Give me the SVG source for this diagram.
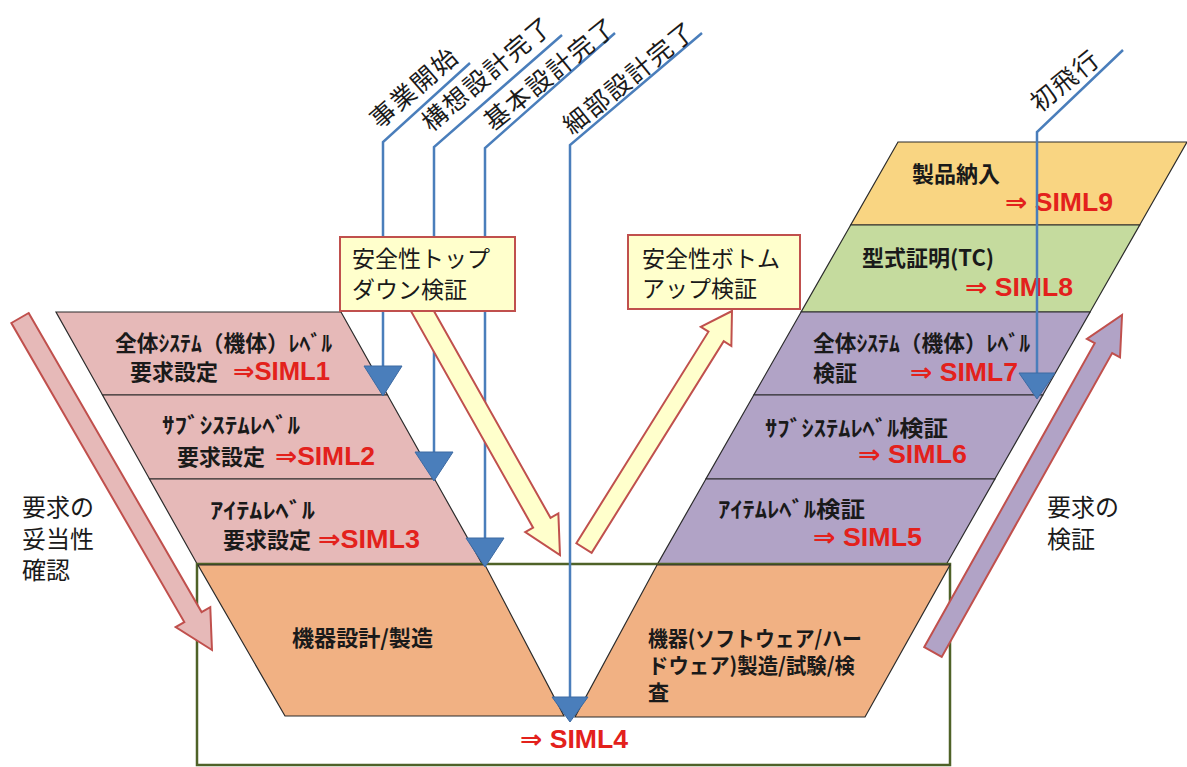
<svg xmlns="http://www.w3.org/2000/svg" width="1187" height="767" viewBox="0 0 1187 767">
<style>
.box{stroke:#2b2b2b;stroke-width:1.2}
.pink{fill:#E6B9B8}
.orange{fill:#F1B183}
.purple{fill:#B1A3C6}
.green{fill:#C5DB9E}
.yellow{fill:#F9D582}
.frame{fill:none;stroke:#4F6228;stroke-width:2.5}
.ms{fill:none;stroke:#4A7EBB;stroke-width:2.5}
.tri{fill:#4A7EBB;stroke:#3C6AA3;stroke-width:1}
.barrow{stroke:#C0504D;stroke-width:2;stroke-linejoin:miter}
.callout{fill:#FFFFCC;stroke:#C0504D;stroke-width:2}
.jp{font-family:"Noto Sans CJK JP",sans-serif;font-weight:bold;font-size:22px;fill:#1a1a1a}
.jps{font-family:"Noto Sans CJK JP",sans-serif;font-weight:bold;font-size:21px;fill:#1a1a1a}
.siml{font-family:"Liberation Sans","DejaVu Sans","Noto Sans CJK JP",sans-serif;font-weight:bold;font-size:25px;fill:#E3211C}
.call{font-family:"Noto Sans CJK JP",sans-serif;font-size:23px;fill:#1a1a1a}
.side{font-family:"Noto Sans CJK JP",sans-serif;font-size:24px;fill:#1a1a1a}
.mst{font-family:"Noto Sans CJK JP",sans-serif;font-size:25px;letter-spacing:2px;fill:#1a1a1a}
</style>

<!-- Left requirement boxes -->
<g id="req-system">
  <polygon class="box pink" points="56,312 341,312 387.5,395 102.5,395"/>
  <text class="jp" x="115" y="351" textLength="217" lengthAdjust="spacingAndGlyphs">全体ｼｽﾃﾑ（機体）ﾚﾍﾞﾙ</text>
  <text class="jp" x="130" y="380">要求設定</text>
  <text class="siml" x="233" y="380" textLength="97" lengthAdjust="spacingAndGlyphs">⇒SIML1</text>
</g>
<g id="req-subsystem">
  <polygon class="box pink" points="102.5,395 387.5,395 434.5,479 149.5,479"/>
  <text class="jp" x="162" y="433" textLength="138" lengthAdjust="spacingAndGlyphs">ｻﾌﾞｼｽﾃﾑﾚﾍﾞﾙ</text>
  <text class="jp" x="177" y="465">要求設定</text>
  <text class="siml" x="275" y="465" textLength="100" lengthAdjust="spacingAndGlyphs">⇒SIML2</text>
</g>
<g id="req-item">
  <polygon class="box pink" points="149.5,479 434.5,479 482.7,565 197.7,565"/>
  <text class="jp" x="210" y="518" textLength="105" lengthAdjust="spacingAndGlyphs">ｱｲﾃﾑﾚﾍﾞﾙ</text>
  <text class="jp" x="223" y="548">要求設定</text>
  <text class="siml" x="318" y="548" textLength="102" lengthAdjust="spacingAndGlyphs">⇒SIML3</text>
</g>

<!-- Right verification boxes -->
<g id="delivery">
  <polygon class="box yellow" points="898,142 1187,142 1139.7,225 850.7,225"/>
  <text class="jp" x="912" y="182">製品納入</text>
  <text class="siml" x="1005" y="211" textLength="108" lengthAdjust="spacingAndGlyphs">⇒ SIML9</text>
</g>
<g id="type-cert">
  <polygon class="box green" points="850.7,225 1139.7,225 1090.1,312 801.1,312"/>
  <text class="jp" x="862" y="266">型式証明(TC)</text>
  <text class="siml" x="965" y="296" textLength="108" lengthAdjust="spacingAndGlyphs">⇒ SIML8</text>
</g>
<g id="ver-system">
  <polygon class="box purple" points="801.1,312 1090.1,312 1042.8,395 753.8,395"/>
  <text class="jp" x="813" y="351" textLength="217" lengthAdjust="spacingAndGlyphs">全体ｼｽﾃﾑ（機体）ﾚﾍﾞﾙ</text>
  <text class="jp" x="813" y="381">検証</text>
  <text class="siml" x="910" y="381" textLength="108" lengthAdjust="spacingAndGlyphs">⇒ SIML7</text>
</g>
<g id="ver-subsystem">
  <polygon class="box purple" points="753.8,395 1042.8,395 994.9,479 705.9,479"/>
  <text class="jp" x="765" y="436" textLength="183" lengthAdjust="spacingAndGlyphs">ｻﾌﾞｼｽﾃﾑﾚﾍﾞﾙ検証</text>
  <text class="siml" x="858" y="463" textLength="109" lengthAdjust="spacingAndGlyphs">⇒ SIML6</text>
</g>
<g id="ver-item">
  <polygon class="box purple" points="705.9,479 994.9,479 946,565 657,565"/>
  <text class="jp" x="718" y="517" textLength="147" lengthAdjust="spacingAndGlyphs">ｱｲﾃﾑﾚﾍﾞﾙ検証</text>
  <text class="siml" x="813" y="546" textLength="109" lengthAdjust="spacingAndGlyphs">⇒ SIML5</text>
</g>

<!-- Bottom SIML4 frame -->
<g id="siml4-frame">
  <rect class="frame" x="197" y="564" width="753" height="201"/>
  <text class="siml" x="520" y="748" textLength="108" lengthAdjust="spacingAndGlyphs">⇒ SIML4</text>
</g>
<g id="equip-design">
  <polygon class="box orange" points="198,565 485,565 564,716 285,716"/>
  <text class="jp" x="292" y="646" textLength="141" lengthAdjust="spacingAndGlyphs">機器設計/製造</text>
</g>
<g id="equip-manufacture">
  <polygon class="box orange" points="657,565 950,565 865,717 575,717"/>
  <text class="jps" x="648" y="646" textLength="214" lengthAdjust="spacingAndGlyphs">機器(ソフトウェア/ハー</text>
  <text class="jps" x="648" y="673" textLength="207" lengthAdjust="spacingAndGlyphs">ドウェア)製造/試験/検</text>
  <text class="jps" x="648" y="700">査</text>
</g>

<!-- Connectors: milestone lines, triangles, block arrows -->
<g id="connectors">
  <path class="ms" d="M470,63 L383,142 L383,367"/>
  <path class="ms" d="M562,35 L434,147 L434,453"/>
  <path class="ms" d="M615,33 L485,148 L485,539"/>
  <path class="ms" d="M702,33 L570,145 L570,698"/>
  <path class="ms" d="M1123,50 L1037,132 L1037,374"/>
  <polygon class="tri" points="364,366 402,366 383,396"/>
  <polygon class="tri" points="415,452 453,452 434,481"/>
  <polygon class="tri" points="466,538 504,538 485,567"/>
  <polygon class="tri" points="552,697 588,697 570,722"/>
  <polygon class="tri" points="1019,373 1055,373 1037,399"/>

  <!-- 要求の妥当性確認 arrow -->
  <polygon class="barrow" fill="#E6B9B8" transform="translate(20,318) rotate(59.96)" points="0,-10 345.5,-10 345.5,-20 383.5,0 345.5,20 345.5,10 0,10"/>
  <!-- 要求の検証 arrow -->
  <polygon class="barrow" fill="#B1A3C6" transform="translate(933,652) rotate(-60.71)" points="0,-10 348.4,-10 348.4,-19 386.4,0 348.4,19 348.4,10 0,10"/>
  <!-- 安全性トップダウン検証 arrow -->
  <polygon class="barrow" fill="#FFFFCC" transform="translate(419,305) rotate(60.58)" points="0,-10 250,-10 250,-19 287,0 250,19 250,10 0,10"/>
  <!-- 安全性ボトムアップ検証 arrow -->
  <polygon class="barrow" fill="#FFFFCC" transform="translate(584,548) rotate(-58.02)" points="0,-9 249.4,-9 249.4,-18 279.4,0 249.4,18 249.4,9 0,9"/>

  <!-- milestone labels -->
  <text class="mst" text-anchor="middle" dominant-baseline="central" transform="translate(413,86) rotate(-41)">事業開始</text>
  <text class="mst" text-anchor="middle" dominant-baseline="central" transform="translate(486,72) rotate(-40)">構想設計完了</text>
  <text class="mst" text-anchor="middle" dominant-baseline="central" transform="translate(549,72) rotate(-39)">基本設計完了</text>
  <text class="mst" text-anchor="middle" dominant-baseline="central" transform="translate(628,76) rotate(-39)">細部設計完了</text>
  <text class="mst" text-anchor="middle" dominant-baseline="central" transform="translate(1064,79) rotate(-39)">初飛行</text>
</g>

<!-- Callouts -->
<g id="safety-topdown">
  <rect class="callout" x="340" y="237" width="175" height="74"/>
  <text class="call" x="352" y="267">安全性トップ</text>
  <text class="call" x="352" y="298">ダウン検証</text>
</g>
<g id="safety-bottomup">
  <rect class="callout" x="628" y="235" width="172" height="74"/>
  <text class="call" x="642" y="267">安全性ボトム</text>
  <text class="call" x="642" y="297">アップ検証</text>
</g>

<!-- Side labels -->
<g id="label-validation">
  <text class="side" x="22" y="516">要求の</text>
  <text class="side" x="22" y="548">妥当性</text>
  <text class="side" x="22" y="579">確認</text>
</g>
<g id="label-verification">
  <text class="side" x="1047" y="516">要求の</text>
  <text class="side" x="1047" y="548">検証</text>
</g>
</svg>
